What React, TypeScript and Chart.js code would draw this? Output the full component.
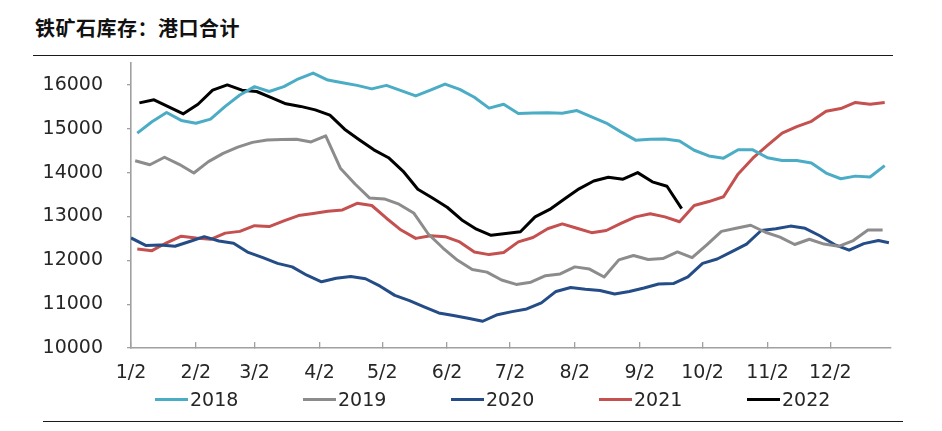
import React, { useEffect, useRef } from "react";
import { Chart, registerables } from "chart.js";

Chart.register(...registerables);

// ---- data ----
const TITLE = "铁矿石库存：港口合计";
const MONTH_TICK_DAYS = [0, 31, 59, 90, 120, 151, 181, 212, 243, 273, 304, 334];
const MONTH_TICK_LABELS = ["1/2", "2/2", "3/2", "4/2", "5/2", "6/2", "7/2", "8/2", "9/2", "10/2", "11/2", "12/2"];
const Y_TICKS = [10000, 11000, 12000, 13000, 14000, 15000, 16000];
const SERIES_NAMES = ["2018", "2019", "2020", "2021", "2022"];

// first observation day (days after Jan 2) for each weekly series
const START_2018 = 3;
const START_2019 = 2;
const START_2020 = 0;
const START_2021 = 3;
const START_2022 = 4;
const LAST_DAY_2020 = 362;

const V2018 = [
  14900, 15160, 15370, 15190, 15125, 15220, 15510, 15770, 15960, 15850,
  15960, 16140, 16270, 16110, 16050, 15990, 15910, 15990, 15870, 15750,
  15880, 16020, 15900, 15720, 15470, 15560, 15350, 15360, 15365, 15355,
  15415, 15270, 15130, 14930, 14740, 14760, 14765, 14720, 14510, 14380,
  14330, 14520, 14520, 14340, 14275, 14275, 14220, 13990, 13860, 13920,
  13900, 14160,
];
const V2019 = [
  14270, 14180, 14350, 14190, 13990, 14250, 14440, 14580, 14690, 14745,
  14755, 14760, 14700, 14840, 14100, 13740, 13420, 13400, 13280, 13080,
  12600, 12280, 12000, 11790, 11730, 11550, 11450, 11500, 11650, 11690,
  11850, 11800, 11620, 12010, 12110, 12020, 12040, 12190, 12060, 12350,
  12660, 12730, 12800, 12640, 12530, 12360, 12480, 12370, 12320, 12450,
  12690, 12690,
];
const V2020 = [
  12510, 12340, 12350, 12320, 12430, 12540, 12440, 12390, 12180, 12060,
  11930, 11850, 11660, 11510, 11590, 11630, 11580, 11410, 11200, 11080,
  10940, 10800, 10740, 10680, 10610, 10760, 10830, 10890, 11030, 11290,
  11380, 11340, 11310, 11230, 11290, 11370, 11460, 11470, 11620, 11930,
  12030, 12200, 12370, 12680, 12720, 12780, 12730, 12560, 12360, 12230,
  12380, 12450, 12400,
];
const V2021 = [
  12260, 12220, 12400, 12550, 12510, 12480, 12620, 12660, 12790, 12770,
  12900, 13020, 13070, 13120, 13150, 13300, 13250, 12960, 12690, 12500,
  12560, 12540, 12420, 12190, 12130, 12180, 12420, 12520, 12720, 12830,
  12730, 12630, 12680, 12840, 12990, 13060, 12990, 12880, 13250, 13340,
  13450, 13970, 14330, 14620, 14900, 15050, 15170, 15400, 15460, 15600,
  15560, 15600,
];
const V2022 = [
  15590, 15660, 15500, 15340, 15560, 15880, 16000, 15880, 15850, 15710,
  15570, 15510, 15430, 15310, 14990, 14750, 14520, 14340, 14030, 13620,
  13420, 13210, 12920, 12710, 12570, 12610, 12650, 12990, 13160, 13400,
  13630, 13810, 13895, 13850, 14000, 13790, 13690, 13180,
];

const COLORS = ["#4BACC6", "#8C8C8C", "#244C86", "#C4504F", "#000000"];
const FONT = '"DejaVu Sans", Verdana, sans-serif';
const TEXT_COLOR = "#262626";
const AXIS_COLOR = "#A0A0A0";

function weeklyDays(start: number, n: number): number[] {
  const out: number[] = [];
  for (let i = 0; i < n; i++) out.push(start + 7 * i);
  return out;
}

function toPoints(days: number[], values: number[]) {
  return values.map((v, i) => ({ x: days[i], y: v }));
}

export default function App() {
  const canvasRef = useRef<HTMLCanvasElement | null>(null);

  useEffect(() => {
    const canvas = canvasRef.current;
    if (!canvas) return;

    const days2020 = [...weeklyDays(START_2020, V2020.length - 1), LAST_DAY_2020];
    const seriesData = [
      toPoints(weeklyDays(START_2018, V2018.length), V2018),
      toPoints(weeklyDays(START_2019, V2019.length), V2019),
      toPoints(days2020, V2020),
      toPoints(weeklyDays(START_2021, V2021.length), V2021),
      toPoints(weeklyDays(START_2022, V2022.length), V2022),
    ];

    const chart = new Chart(canvas, {
      type: "line",
      data: {
        datasets: SERIES_NAMES.map((name, i) => ({
          label: name,
          data: seriesData[i],
          borderColor: COLORS[i],
          backgroundColor: COLORS[i],
          borderWidth: 3,
          pointRadius: 0,
          tension: 0,
          fill: false,
          borderJoinStyle: "round",
        })),
      },
      options: {
        animation: false,
        responsive: false,
        maintainAspectRatio: false,
        layout: { padding: { left: 0, right: 51, top: 63, bottom: 12 } },
        plugins: {
          legend: { display: false },
          tooltip: { enabled: false },
          title: { display: false },
        },
        scales: {
          x: {
            type: "linear",
            min: 0,
            max: 363,
            afterBuildTicks: (scale: any) => {
              scale.ticks = MONTH_TICK_DAYS.map((v) => ({ value: v }));
            },
            afterFit: (scale: any) => {
              scale.height = 40;
            },
            ticks: {
              autoSkip: false,
              maxRotation: 0,
              padding: 20,
              color: TEXT_COLOR,
              font: { family: FONT, size: 19 },
              callback: (value: any) => {
                const idx = MONTH_TICK_DAYS.indexOf(Number(value));
                return idx >= 0 ? MONTH_TICK_LABELS[idx] : "";
              },
            },
            grid: {
              display: true,
              drawOnChartArea: false,
              drawTicks: true,
              tickLength: -6,
              color: AXIS_COLOR,
              lineWidth: 1.3,
            },
            border: { display: true, color: AXIS_COLOR, width: 1.6 },
          },
          y: {
            type: "linear",
            min: 10000,
            max: 16500,
            afterBuildTicks: (scale: any) => {
              scale.ticks = Y_TICKS.map((v) => ({ value: v }));
            },
            afterFit: (scale: any) => {
              scale.width = 131;
            },
            ticks: {
              padding: 24,
              color: TEXT_COLOR,
              font: { family: FONT, size: 19 },
              callback: (value: any) => String(value),
            },
            grid: {
              display: true,
              drawOnChartArea: false,
              drawTicks: true,
              tickLength: 4,
              color: AXIS_COLOR,
              lineWidth: 1.3,
            },
            border: { display: true, color: AXIS_COLOR, width: 1.6 },
          },
        },
      },
    } as any);

    return () => chart.destroy();
  }, []);

  return (
    <div style={{ position: "fixed", left: 0, top: 0, width: 942, height: 431, background: "#fff", overflow: "hidden" }}>
      <div
        style={{
          position: "absolute",
          left: 35,
          top: 15,
          fontFamily: '"Noto Sans CJK SC", sans-serif',
          fontWeight: 700,
          fontSize: 20,
          letterSpacing: 0.5,
          lineHeight: "26px",
          color: "#111",
          whiteSpace: "nowrap",
        }}
      >
        {TITLE}
      </div>
      <div style={{ position: "absolute", left: 33, top: 55, width: 860, height: 0, borderTop: "1.5px solid #1a1a1a" }} />
      <canvas
        ref={canvasRef}
        width={942}
        height={400}
        style={{ position: "absolute", left: 0, top: 0, width: 942, height: 400 }}
      />
      <div style={{ position: "absolute", left: 155, top: 389, display: "flex" }}>
        {SERIES_NAMES.map((name, i) => (
          <div key={name} style={{ width: 148, height: 22, position: "relative" }}>
            <div style={{ position: "absolute", left: 0, top: 9, width: 33, height: 3, background: COLORS[i] }} />
            <div
              style={{
                position: "absolute",
                left: 35,
                top: 0,
                fontFamily: FONT,
                fontSize: 19,
                lineHeight: "20px",
                color: TEXT_COLOR,
              }}
            >
              {name}
            </div>
          </div>
        ))}
      </div>
      <div style={{ position: "absolute", left: 43, top: 421, width: 860, height: 0, borderTop: "1.5px solid #1a1a1a" }} />
    </div>
  );
}
